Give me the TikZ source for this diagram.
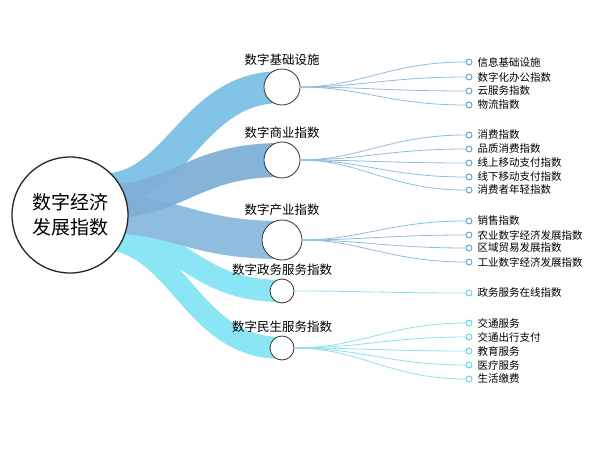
\documentclass[tikz,border=0pt]{standalone}
\usepackage{fontspec}
\setmainfont{Noto Sans CJK SC}
\begin{document}
\begin{tikzpicture}[x=1pt,y=-1pt,
  band/.style={line cap=butt},
  mid/.style={circle,draw=black!80,fill=white,line width=0.8pt,inner sep=0pt},
  leaf/.style={circle,draw=#1,fill=white,line width=0.9pt,minimum size=6pt,inner sep=0pt},
  twig/.style={draw=#1!70,line width=0.8pt},
  lab/.style={font=\fontsize{12.5}{14}\selectfont,anchor=south},
  ltxt/.style={font=\fontsize{10.5}{12}\selectfont,anchor=west}]
\useasboundingbox (0,0) rectangle (612,449);
\definecolor{b1}{HTML}{82C4E6}
\definecolor{b2}{HTML}{7FAFD6}
\definecolor{b3}{HTML}{8FBDE0}
\definecolor{b4}{HTML}{8AE6F5}
\definecolor{t1}{HTML}{5E9FD0}
\definecolor{t4}{HTML}{5CD2E8}
\coordinate (o1) at (100,190);
\coordinate (o2) at (100,202);
\coordinate (o3) at (100,214);
\coordinate (o4) at (100,230);
\coordinate (o5) at (100,238);
\coordinate (c1) at (282,87);
\coordinate (c2) at (282,160);
\coordinate (c3) at (282,240);
\coordinate (c4) at (282,291);
\coordinate (c5) at (282,348);
\draw[b1,line width=32pt,band] (o1) .. controls (180,190) and (190,87) .. (c1);
\draw[b4,line width=22pt,band] (o5) .. controls (180,240) and (190,348) .. (c5);
\draw[b4,line width=22pt,band] (o4) .. controls (180,230) and (190,291) .. (c4);
\draw[b3,line width=38pt,band] (o3) .. controls (180,214) and (190,240) .. (c3);
\draw[b2,line width=34pt,band,opacity=0.95] (o2) .. controls (180,202) and (190,160) .. (c2);
\node[mid,minimum size=36pt] (m1) at (c1) {};
\node[mid,minimum size=36pt] (m2) at (c2) {};
\node[mid,minimum size=40pt] (m3) at (c3) {};
\node[mid,minimum size=24pt] (m4) at (c4) {};
\node[mid,minimum size=24pt] (m5) at (c5) {};
\node[circle,draw=black!85,fill=white,line width=1.3pt,minimum size=116pt,inner sep=0pt,align=center,font=\fontsize{19}{25}\selectfont] (root) at (70,215) {数字经济\\发展指数};
\node[lab] at (m1.north) {数字基础设施};
\node[lab] at (m2.north) {数字商业指数};
\node[lab] at (m3.north) {数字产业指数};
\node[lab] at (m4.north) {数字政务服务指数};
\node[lab] at (m5.north) {数字民生服务指数};
\foreach \m/\my/\c/\y/\t [count=\i] in {
 m1/87/t1/62/信息基础设施, m1/87/t1/77/数字化办公指数, m1/87/t1/91/云服务指数, m1/87/t1/105/物流指数,
 m2/160/t1/135/消费指数, m2/160/t1/149/品质消费指数, m2/160/t1/163/线上移动支付指数, m2/160/t1/177/线下移动支付指数, m2/160/t1/190/消费者年轻指数,
 m3/240/t1/221/销售指数, m3/240/t1/235/农业数字经济发展指数, m3/240/t1/248/区域贸易发展指数, m3/240/t1/262/工业数字经济发展指数,
 m4/291/t4/293/政务服务在线指数,
 m5/348/t4/323/交通服务, m5/348/t4/337/交通出行支付, m5/348/t4/351/教育服务, m5/348/t4/365/医疗服务, m5/348/t4/379/生活缴费}{
 \node[leaf=\c] (l\i) at (469,\y) {};
 \draw[twig=\c] (\m.east) .. controls (360,\my) and (390,\y) .. (l\i.west);
 \node[ltxt] at (474,\y) {\t};
}
\end{tikzpicture}
\end{document}
